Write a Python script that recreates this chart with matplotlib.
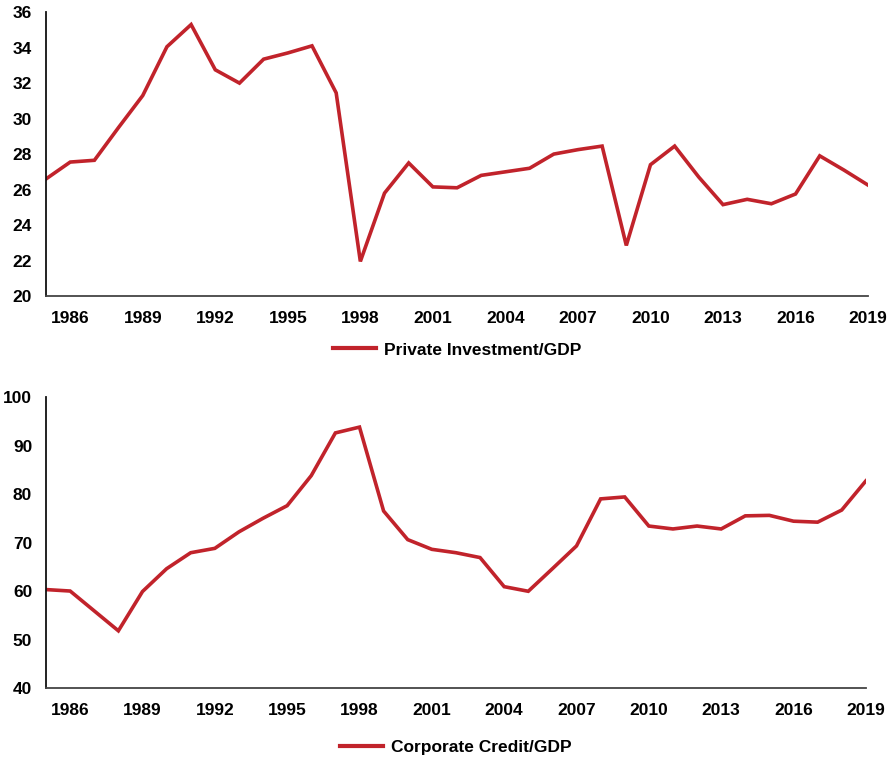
import numpy as np
import matplotlib
matplotlib.use("Agg")
import matplotlib.pyplot as plt

# Years and series
years = list(range(1985, 2020))

private_investment = [
    26.6, 27.55, 27.65, 29.5, 31.3, 34.05, 35.3, 32.75, 32.0, 33.35,
    33.7, 34.1, 31.45, 21.95, 25.8, 27.5, 26.15, 26.1, 26.8, 27.0,
    27.2, 28.0, 28.25, 28.45, 22.85, 27.4, 28.45, 26.7, 25.15, 25.45,
    25.2, 25.75, 27.9, 27.1, 26.25,
]

corporate_credit = [
    60.3, 60.0, 55.9, 51.8, 59.9, 64.6, 67.9, 68.8, 72.2, 75.0,
    77.6, 83.8, 92.6, 93.8, 76.5, 70.6, 68.6, 67.9, 66.9, 60.9,
    59.95, 64.6, 69.3, 79.0, 79.4, 73.4, 72.8, 73.4, 72.8, 75.5,
    75.6, 74.4, 74.2, 76.7, 82.7,
]

tick_years = list(range(1986, 2020, 3))

RED = "#C1232B"
plt.rcParams["font.family"] = ["Liberation Sans", "DejaVu Sans"]
plt.rcParams["font.weight"] = "bold"

fig = plt.figure(figsize=(8.94, 7.59), dpi=100)
ax1 = fig.add_axes([0.0515, 0.610, 0.9195, 0.374])
ax2 = fig.add_axes([0.0515, 0.0935, 0.917, 0.3834])


def style(ax, ylim, yticks, label, series, leg_y):
    ax.plot(years, series, color=RED, lw=2.6, label=label, solid_joinstyle="miter")
    ax.set_xlim(1985, 2019)
    ax.set_ylim(*ylim)
    ax.set_yticks(yticks)
    ax.set_xticks(tick_years)
    ax.tick_params(axis="x", length=0, pad=11, labelsize=12.5)
    ax.tick_params(axis="y", length=0, pad=10, labelsize=12.5)
    for lab in ax.get_xticklabels() + ax.get_yticklabels():
        lab.set_fontweight("bold")
    for s in ["top", "right"]:
        ax.spines[s].set_visible(False)
    ax.spines["left"].set_color("#111111")
    ax.spines["bottom"].set_color("#444444")
    ax.spines["left"].set_linewidth(1.3)
    ax.spines["bottom"].set_linewidth(1.3)
    leg = ax.legend(loc="center", bbox_to_anchor=(0.5, leg_y), frameon=False,
                    handlelength=2.5, handletextpad=0.45,
                    prop={"weight": "bold", "size": 12.5})
    for h in leg.get_lines():
        h.set_linewidth(3)


style(ax1, (20, 36), np.arange(20, 37, 2), "Private Investment/GDP",
      private_investment, -0.19)
style(ax2, (40, 100), np.arange(40, 101, 10), "Corporate Credit/GDP",
      corporate_credit, -0.205)

fig.savefig("out.png", dpi=100, facecolor="white")
